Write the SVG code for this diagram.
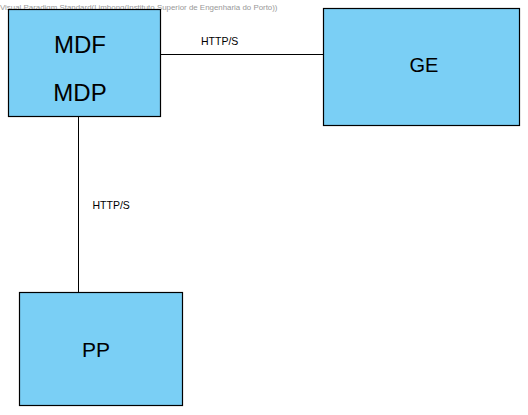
<svg xmlns="http://www.w3.org/2000/svg" width="528" height="415" viewBox="0 0 528 415">
<style>
.node rect{fill:#7acff5;stroke:#000;stroke-width:1.2}
.big{font-family:"Liberation Sans",Arial,sans-serif;fill:#000;text-anchor:middle}
.lbl{font-family:"Liberation Sans",Arial,sans-serif;font-size:10.5px;fill:#000}
.conn line{stroke:#000;stroke-width:1}
</style>
<rect width="528" height="415" fill="#fff"/>
<text x="0" y="10" font-family="'Liberation Sans',Arial,sans-serif" font-size="7.9" fill="#999">Visual Paradigm Standard(Limbong(Instituto Superior de Engenharia do Porto))</text>
<g class="conn" id="connectors">
<line x1="160.5" y1="54.5" x2="323.5" y2="54.5"/>
<line x1="78.5" y1="116.5" x2="78.5" y2="292.5"/>
<text class="lbl" x="201" y="45">HTTP/S</text>
<text class="lbl" x="92.5" y="208.5">HTTP/S</text>
</g>
<g class="node" id="MDF">
<rect x="8.5" y="9.5" width="152" height="107"/>
<text class="big" x="80" y="53" font-size="24">MDF</text>
<text class="big" x="80" y="101" font-size="24">MDP</text>
</g>
<g class="node" id="GE">
<rect x="323.5" y="8.5" width="196" height="117"/>
<text class="big" x="424" y="72" font-size="20">GE</text>
</g>
<g class="node" id="PP">
<rect x="19.5" y="292.5" width="163" height="113"/>
<text class="big" x="96" y="357" font-size="21">PP</text>
</g>
</svg>
